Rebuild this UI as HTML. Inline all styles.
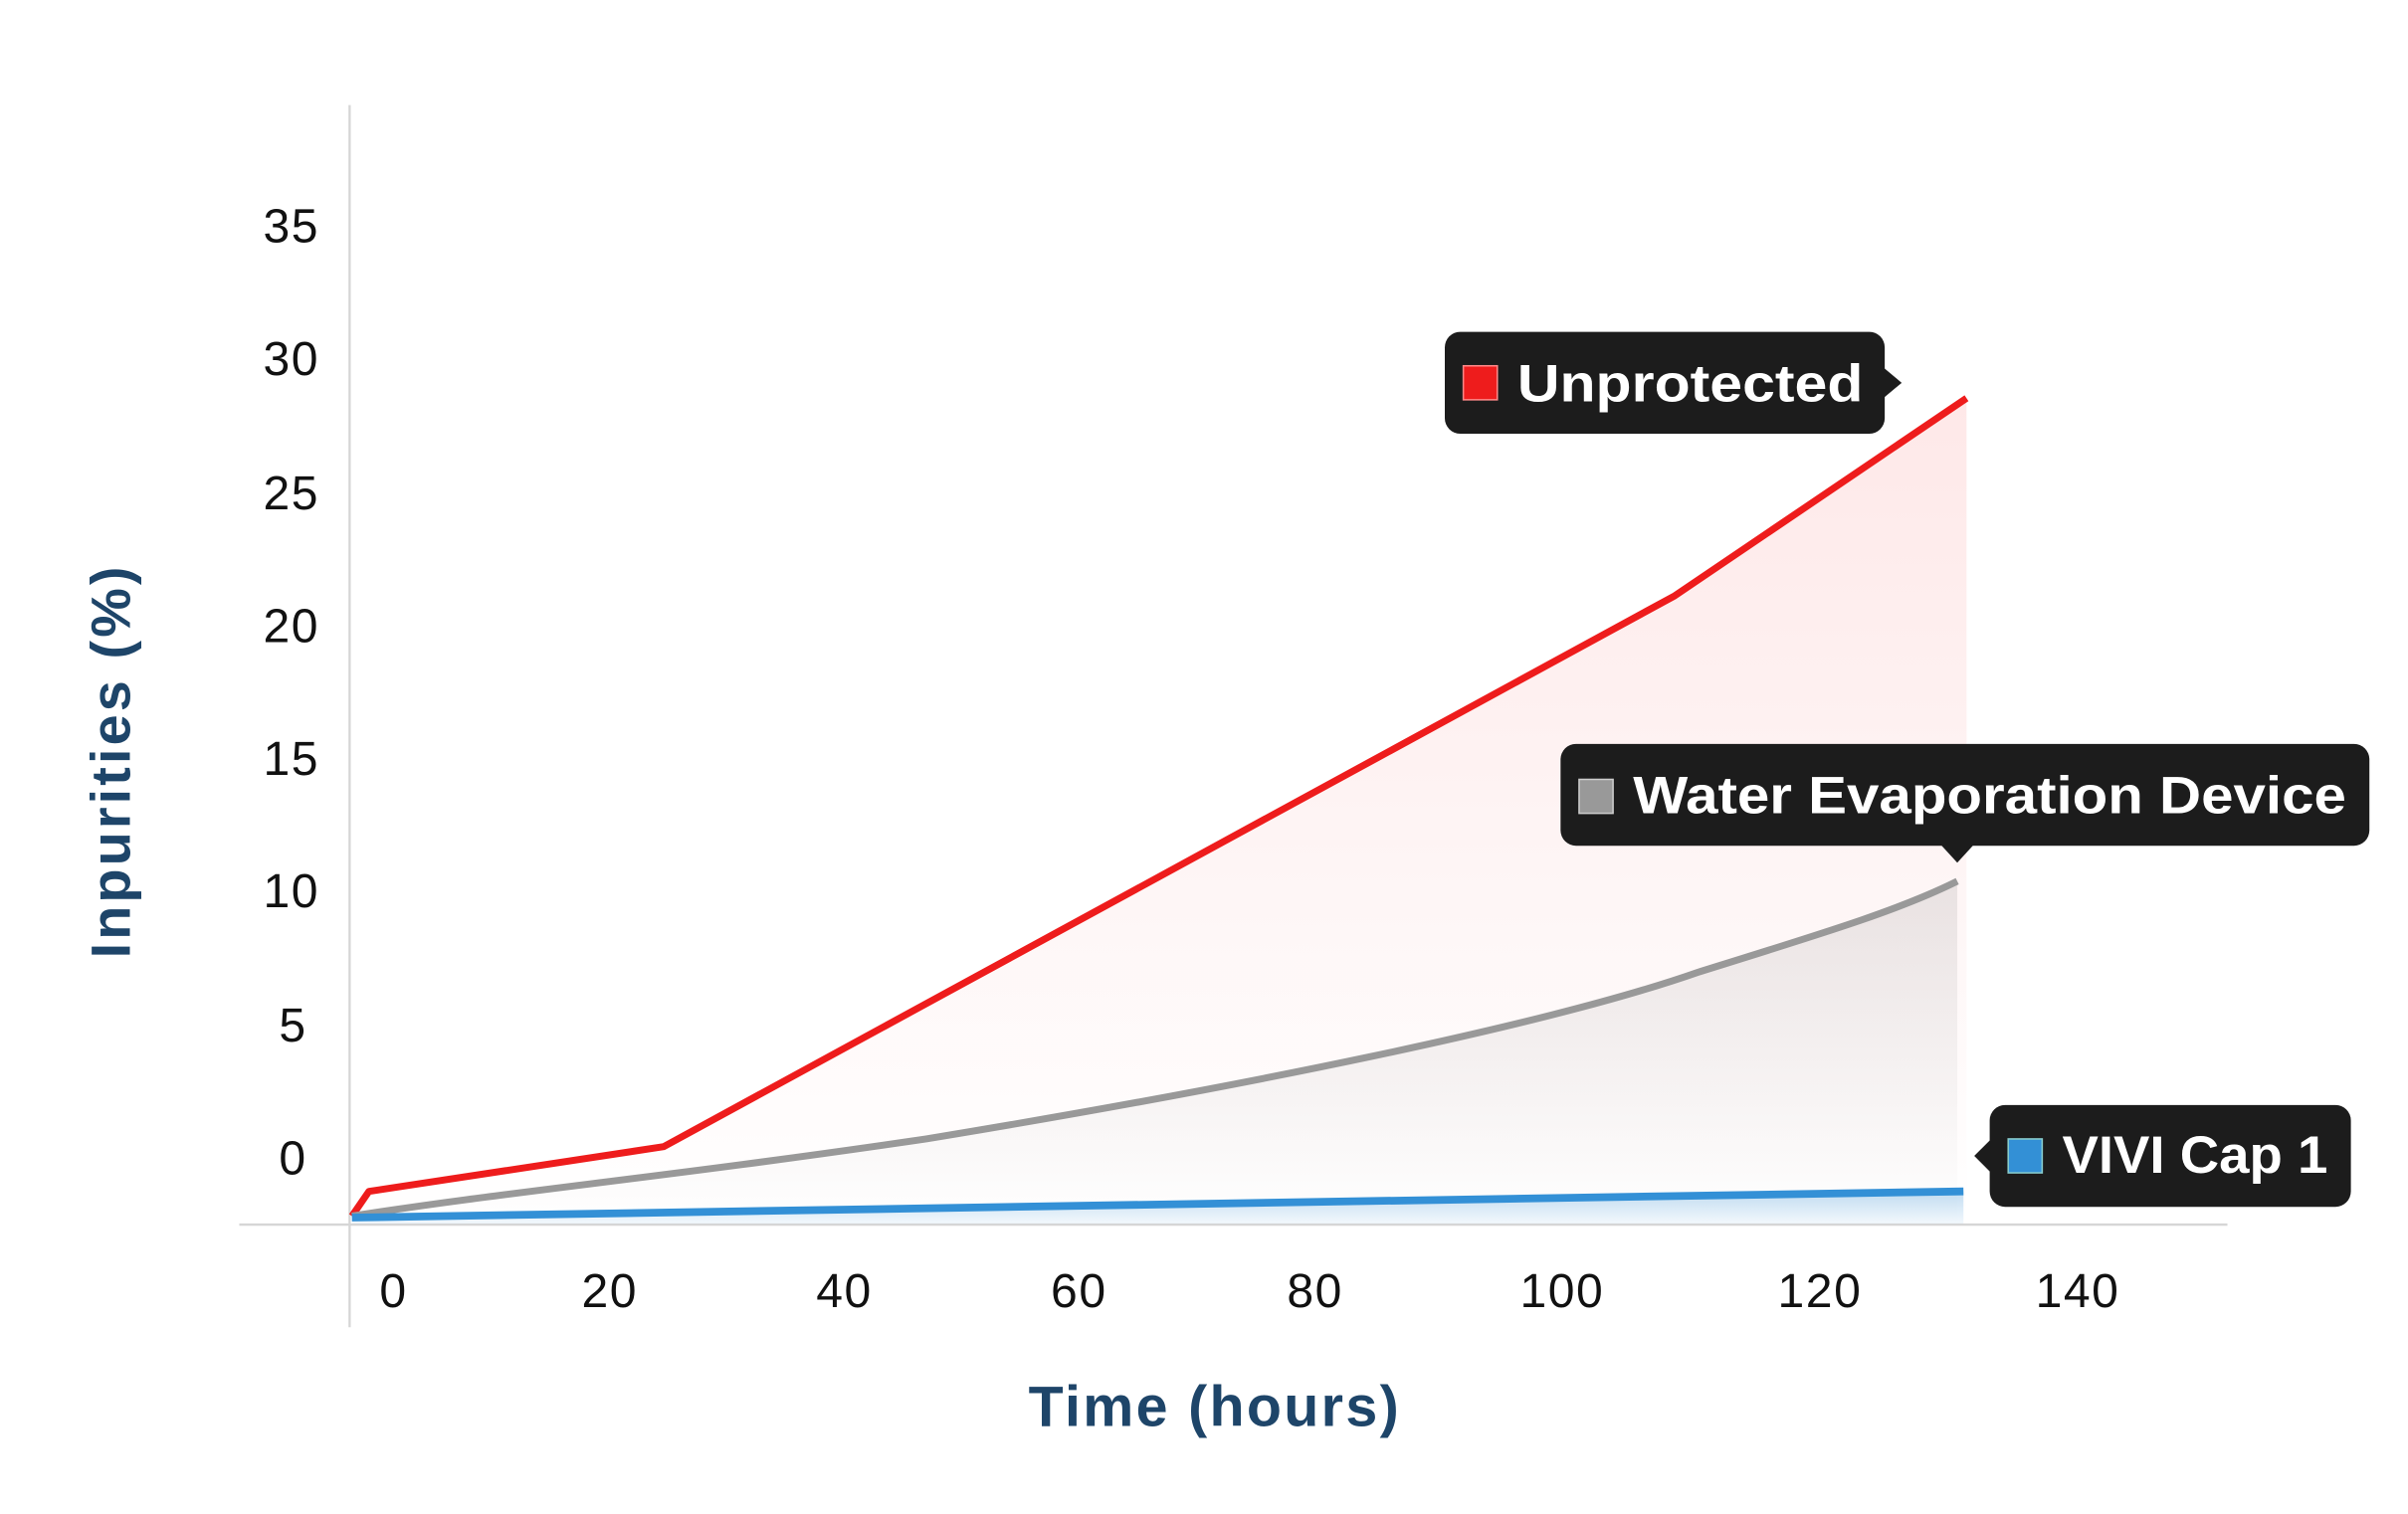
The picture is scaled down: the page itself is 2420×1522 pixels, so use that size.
<!DOCTYPE html>
<html><head><meta charset="utf-8"><style>
html,body{margin:0;padding:0;background:#fff;}
svg{display:block;}
</style></head><body>
<svg width="2420" height="1522" viewBox="0 0 1560 981" xmlns="http://www.w3.org/2000/svg">
<defs>
<linearGradient id="gr" x1="0" y1="0" x2="0" y2="1"><stop offset="0" stop-color="#f01a1a" stop-opacity="0.10"/><stop offset="1" stop-color="#f01a1a" stop-opacity="0.0"/></linearGradient>
<linearGradient id="gg" x1="0" y1="0" x2="0" y2="1"><stop offset="0" stop-color="#888" stop-opacity="0.18"/><stop offset="1" stop-color="#888" stop-opacity="0.0"/></linearGradient>
<linearGradient id="gb" x1="0" y1="0" x2="0" y2="1"><stop offset="0" stop-color="#3390d6" stop-opacity="0.3"/><stop offset="1" stop-color="#3390d6" stop-opacity="0.06"/></linearGradient>
</defs>
<rect width="1560" height="981" fill="#fff"/>
<line x1="226.5" y1="68" x2="226.5" y2="860" stroke="#d6d6d6" stroke-width="1.5"/>
<line x1="155" y1="793.5" x2="1443" y2="793.5" stroke="#d6d6d6" stroke-width="1.5"/>
<g font-family="Liberation Sans, sans-serif" font-size="31" fill="#111" text-anchor="end" letter-spacing="1">
<text x="207" y="157">35</text><text x="207" y="243">30</text><text x="207" y="330">25</text><text x="207" y="416">20</text>
<text x="207" y="502">15</text><text x="207" y="588">10</text><text x="199" y="675">5</text><text x="199" y="761">0</text>
</g>
<g font-family="Liberation Sans, sans-serif" font-size="31" fill="#111" text-anchor="middle" letter-spacing="1">
<text x="255" y="847">0</text><text x="395" y="847">20</text><text x="547" y="847">40</text><text x="699" y="847">60</text>
<text x="852" y="847">80</text><text x="1012" y="847">100</text><text x="1179" y="847">120</text><text x="1346" y="847">140</text>
</g>
<text transform="translate(84,493) rotate(-90)" font-family="Liberation Sans, sans-serif" font-size="36" font-weight="bold" fill="#1e4569" text-anchor="middle" letter-spacing="2">Inpurities (%)</text>
<text x="787" y="924" font-family="Liberation Sans, sans-serif" font-size="37" font-weight="bold" fill="#1e4569" text-anchor="middle" letter-spacing="1.5">Time (hours)</text>
<path d="M228,788 L239,772 L430,743 L1085,386 L1274,258 L1274,793 L228,793Z" fill="url(#gr)"/>
<path d="M228,788 C330,772 430,763 600,738 C800,705 1000,665 1100,630 C1180,605 1230,590 1268,571 L1268,793 L228,793Z" fill="url(#gg)"/>
<path d="M228,789 L1272,772 L1272,793 L228,793Z" fill="url(#gb)"/>
<path d="M228,788 L239,772 L430,743 L1085,386 L1274,258" fill="none" stroke="#ee1c1c" stroke-width="4.5" stroke-linejoin="round"/>
<path d="M228,788 C330,772 430,763 600,738 C800,705 1000,665 1100,630 C1180,605 1230,590 1268,571" fill="none" stroke="#999" stroke-width="4.5"/>
<path d="M228,789 L1272,772" fill="none" stroke="#3390d6" stroke-width="5"/>
<g font-family="Liberation Sans, sans-serif" font-size="34" font-weight="bold" fill="#fff">
<rect x="936" y="215" width="285" height="66" rx="10" fill="#1c1c1c"/>
<path d="M1220,238 L1232,248 L1220,258Z" fill="#1c1c1c"/>
<rect x="948" y="237" width="22" height="22" fill="#ee1c1c" stroke="#f88" stroke-width="1"/>
<text x="983" y="260" textLength="224" lengthAdjust="spacingAndGlyphs">Unprotected</text>
<rect x="1011" y="482" width="524" height="66" rx="10" fill="#1c1c1c"/>
<path d="M1257,547 L1268,559 L1279,547Z" fill="#1c1c1c"/>
<rect x="1023" y="505" width="22" height="22" fill="#999" stroke="#ccc" stroke-width="1"/>
<text x="1058" y="527" textLength="462" lengthAdjust="spacingAndGlyphs">Water Evaporation Device</text>
<rect x="1289" y="716" width="234" height="66" rx="10" fill="#1c1c1c"/>
<path d="M1290,738 L1279,749 L1290,760Z" fill="#1c1c1c"/>
<rect x="1301" y="738" width="22" height="22" fill="#3390d6" stroke="#8cc" stroke-width="1"/>
<text x="1336" y="760" textLength="172" lengthAdjust="spacingAndGlyphs">VIVI Cap 1</text>
</g>
</svg>
</body></html>
